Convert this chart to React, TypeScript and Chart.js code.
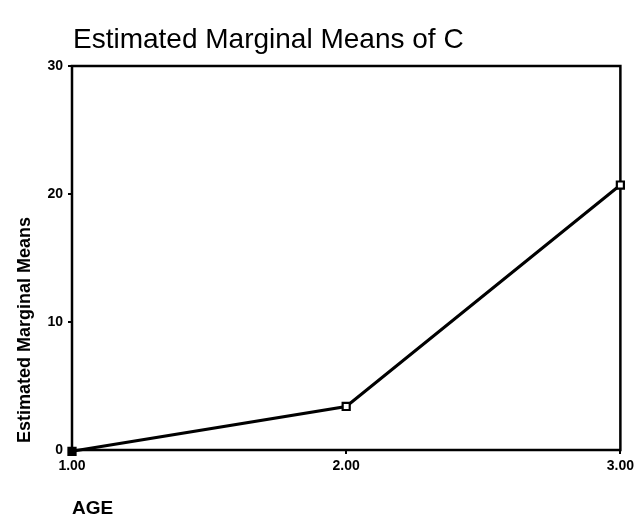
import React, { useEffect, useRef } from "react";
import { Chart, registerables } from "chart.js";

Chart.register(...registerables);

const TITLE = "Estimated Marginal Means of C";
const Y_TITLE = "Estimated Marginal Means";
const X_TITLE = "AGE";
const ageLevels = [1, 2, 3];
const marginalMeans = [-0.1, 3.4, 20.7];
const yTicks = [0, 10, 20, 30];

const FONT = "'Liberation Sans', Arial, Helvetica, sans-serif";

export default function App() {
  const ref = useRef<HTMLCanvasElement>(null);

  useEffect(() => {
    const canvas = ref.current;
    if (!canvas) return;

    const framePlugin = {
      id: "frame",
      beforeDatasetsDraw(chart: any) {
        const { ctx, chartArea } = chart;
        ctx.save();
        ctx.strokeStyle = "#000";
        ctx.lineWidth = 2.5;
        ctx.strokeRect(chartArea.left, chartArea.top, chartArea.right - chartArea.left, chartArea.bottom - chartArea.top);
        ctx.restore();
      },
      afterDraw(chart: any) {
        const { ctx, chartArea } = chart;
        ctx.save();
        ctx.fillStyle = "#000";
        // main title
        ctx.font = `28px ${FONT}`;
        ctx.textAlign = "left";
        ctx.textBaseline = "alphabetic";
        ctx.fillText(TITLE, chartArea.left + 1, 48);
        // x title
        ctx.font = `bold 19px ${FONT}`;
        ctx.fillText(X_TITLE, chartArea.left, chartArea.bottom + 64);
        // y title (rotated)
        ctx.font = `bold 18px ${FONT}`;
        ctx.translate(chartArea.left - 42, chartArea.bottom - 120);
        ctx.rotate(-Math.PI / 2);
        ctx.textAlign = "center";
        ctx.fillText(Y_TITLE, 0, 0);
        ctx.restore();
      },
    };

    const tickFont = { family: FONT, size: 14, weight: "bold" as const };

    const chart = new Chart(canvas, {
      type: "line",
      data: {
        datasets: [
          {
            data: ageLevels.map((x, i) => ({ x, y: marginalMeans[i] })),
            borderColor: "#000",
            borderWidth: 3,
            pointStyle: "rect",
            pointRadius: 5,
            pointBorderWidth: 2.2,
            pointBorderColor: "#000",
            pointBackgroundColor: marginalMeans.map((_, i) => (i === 0 ? "#000" : "#fff")),
            tension: 0,
            clip: false as any,
          },
        ],
      },
      options: {
        responsive: false,
        animation: false,
        devicePixelRatio: 1,
        layout: { padding: { left: 0, top: 66, right: 16, bottom: 0 } },
        plugins: {
          legend: { display: false },
          tooltip: { enabled: false },
          title: { display: false },
        },
        scales: {
          x: {
            type: "linear",
            min: 1,
            max: 3,
            afterBuildTicks: (s: any) => {
              s.ticks = ageLevels.map((v) => ({ value: v }));
            },
            ticks: {
              callback: (v: any) => Number(v).toFixed(2),
              font: tickFont,
              color: "#000",
              padding: 4,
              maxRotation: 0,
              autoSkip: false,
            },
            grid: {
              display: true,
              drawOnChartArea: false,
              drawTicks: true,
              tickLength: 4,
              color: "#000",
              lineWidth: 2,
            },
            border: { display: false },
            afterFit: (s: any) => {
              s.height = 70;
            },
          },
          y: {
            type: "linear",
            min: 0,
            max: 30,
            afterBuildTicks: (s: any) => {
              s.ticks = yTicks.map((v) => ({ value: v }));
            },
            ticks: {
              font: tickFont,
              color: "#000",
              padding: 5,
            },
            grid: {
              display: true,
              drawOnChartArea: false,
              drawTicks: true,
              tickLength: 4,
              color: "#000",
              lineWidth: 2,
            },
            border: { display: false },
            afterFit: (s: any) => {
              s.width = 72;
            },
          },
        },
      },
      plugins: [framePlugin],
    });

    return () => chart.destroy();
  }, []);

  return (
    <div style={{ position: "fixed", left: 0, top: 0, width: 638, height: 520, background: "#fff" }}>
      <canvas ref={ref} width={638} height={520} style={{ display: "block", width: 638, height: 520 }} />
    </div>
  );
}
